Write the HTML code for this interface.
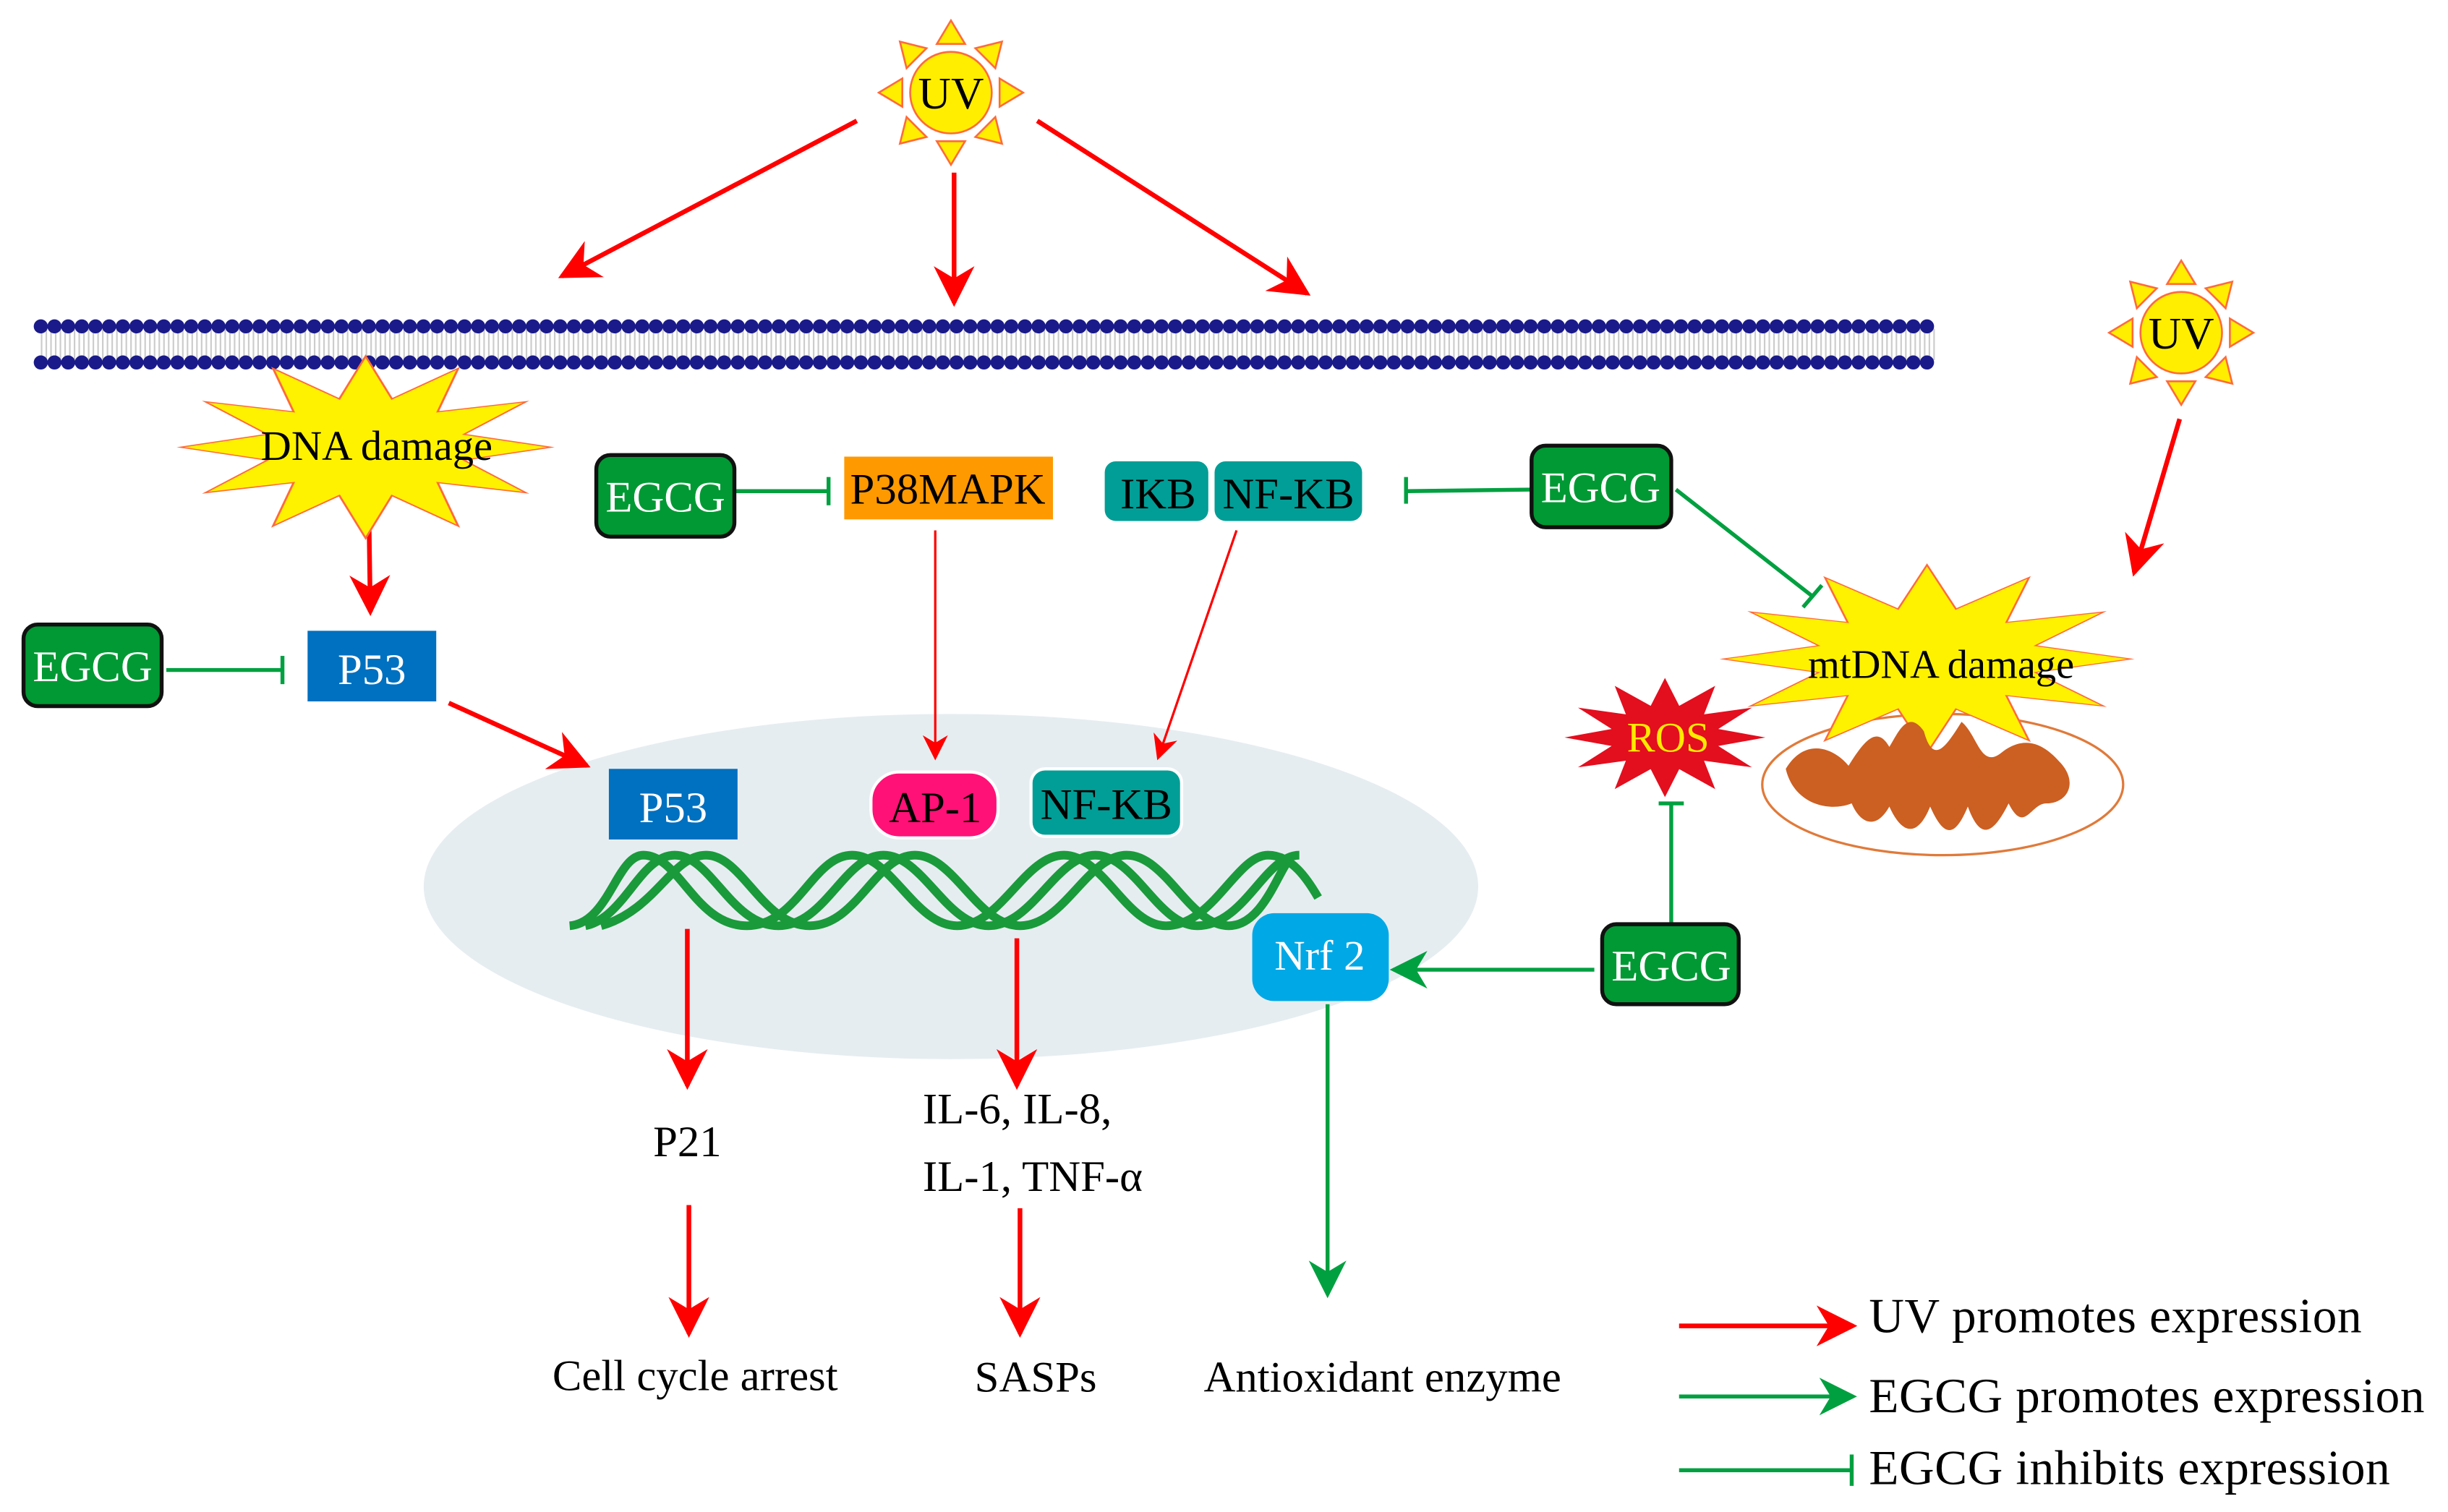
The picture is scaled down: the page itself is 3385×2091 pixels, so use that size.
<!DOCTYPE html>
<html><head><meta charset="utf-8"><style>html,body{margin:0;padding:0;background:#fff}svg{display:block}text{font-family:"Liberation Serif",serif}</style></head>
<body>
<svg width="3385" height="2091" viewBox="0 0 1560 963.6" xmlns="http://www.w3.org/2000/svg">
<defs>
<marker id="rb" viewBox="0 0 10 10" refX="9" refY="5" markerWidth="26" markerHeight="26" markerUnits="userSpaceOnUse" orient="auto"><path d="M0,0 L10,5 L0,10 L3,5z" fill="#f00"/></marker>
<marker id="rs" viewBox="0 0 10 10" refX="9" refY="5" markerWidth="16" markerHeight="16" markerUnits="userSpaceOnUse" orient="auto"><path d="M0,0 L10,5 L0,10 L3,5z" fill="#f00"/></marker>
<marker id="ga" viewBox="0 0 10 10" refX="9" refY="5" markerWidth="24" markerHeight="24" markerUnits="userSpaceOnUse" orient="auto"><path d="M0,0 L10,5 L0,10 L3,5z" fill="#00a040"/></marker>
<path id="star" d="M1,0 L0.531,0.142 L0.866,0.5 L0.389,0.389 L0.5,0.866 L0.142,0.531 L0,1 L-0.142,0.531 L-0.5,0.866 L-0.389,0.389 L-0.866,0.5 L-0.531,0.142 L-1,0 L-0.531,-0.142 L-0.866,-0.5 L-0.389,-0.389 L-0.5,-0.866 L-0.142,-0.531 L0,-1 L0.142,-0.531 L0.5,-0.866 L0.389,-0.389 L0.866,-0.5 L0.531,-0.142Z"/>
<g id="sun">
<g fill="#ffee00" stroke="#ff6a3a" stroke-width="1.2">
<polygon points="-9,-31 9,-31 0,-46"/>
<polygon points="-9,-31 9,-31 0,-46" transform="rotate(45)"/>
<polygon points="-9,-31 9,-31 0,-46" transform="rotate(90)"/>
<polygon points="-9,-31 9,-31 0,-46" transform="rotate(135)"/>
<polygon points="-9,-31 9,-31 0,-46" transform="rotate(180)"/>
<polygon points="-9,-31 9,-31 0,-46" transform="rotate(225)"/>
<polygon points="-9,-31 9,-31 0,-46" transform="rotate(270)"/>
<polygon points="-9,-31 9,-31 0,-46" transform="rotate(315)"/>
<circle r="26"/>
</g>
<text y="10" text-anchor="middle" font-size="29">UV</text>
</g>
</defs>

<ellipse cx="606" cy="565" rx="336" ry="110" fill="#e6edf1"/>

<g>
<line x1="26" y1="219.5" x2="1234" y2="219.5" stroke="#ccc" stroke-width="20" stroke-dasharray="1,2"/>
<line x1="26" y1="208" x2="1234" y2="208" stroke="#1a1a8a" stroke-width="9" stroke-linecap="round" stroke-dasharray="0.01,8.7"/>
<line x1="26" y1="231" x2="1234" y2="231" stroke="#1a1a8a" stroke-width="9" stroke-linecap="round" stroke-dasharray="0.01,8.7"/>
</g>

<use href="#sun" x="606" y="59"/>
<use href="#sun" x="1390" y="212"/>

<g stroke="#f00" stroke-width="3" fill="none">
<line x1="546" y1="77" x2="358" y2="176" marker-end="url(#rb)"/>
<line x1="608" y1="110" x2="608" y2="193" marker-end="url(#rb)"/>
<line x1="661" y1="77" x2="833" y2="187" marker-end="url(#rb)"/>
<line x1="235" y1="322" x2="236" y2="390" marker-end="url(#rb)"/>
<line x1="286" y1="448" x2="374" y2="488" marker-end="url(#rb)"/>
<line x1="1389" y1="267" x2="1360" y2="365" marker-end="url(#rb)"/>
<line x1="438" y1="592" x2="438" y2="692" marker-end="url(#rb)"/>
<line x1="648" y1="598" x2="648" y2="692" marker-end="url(#rb)"/>
<line x1="439" y1="768" x2="439" y2="850" marker-end="url(#rb)"/>
<line x1="650" y1="770" x2="650" y2="850" marker-end="url(#rb)"/>
<line x1="1070" y1="845" x2="1181" y2="845" marker-end="url(#rb)"/>
</g>
<g stroke="#f00" stroke-width="1.5" fill="none">
<line x1="596" y1="338" x2="596" y2="483" marker-end="url(#rs)"/>
<line x1="788" y1="338" x2="738" y2="483" marker-end="url(#rs)"/>
</g>

<g stroke="#00a040" stroke-width="2.5" fill="none">
<line x1="846" y1="640" x2="846" y2="825" marker-end="url(#ga)"/>
<line x1="1016" y1="618" x2="888" y2="618" marker-end="url(#ga)"/>
<line x1="1070" y1="890" x2="1181" y2="890" marker-end="url(#ga)"/>
<line x1="468" y1="313" x2="528" y2="313"/><line x1="528" y1="304" x2="528" y2="322"/>
<line x1="106" y1="427" x2="180" y2="427"/><line x1="180" y1="418" x2="180" y2="436"/>
<line x1="976" y1="312" x2="896" y2="313"/><line x1="896" y1="304" x2="896" y2="321"/>
<line x1="1068" y1="312" x2="1155" y2="380"/><line x1="1149" y1="387" x2="1161" y2="373"/>
<line x1="1065" y1="588" x2="1065" y2="512"/><line x1="1057" y1="512" x2="1073" y2="512"/>
<line x1="1070" y1="937" x2="1180" y2="937"/><line x1="1180" y1="927" x2="1180" y2="947"/>
</g>

<g fill="none" stroke="#1a9a3a" stroke-width="5.5">
<path d="M363,590 C388,588 393,545 410,545 C433,545 443,590 476,590 C508,590 518,545 543,545 C568,545 583,590 610,590 C638,590 653,545 678,545 C703,545 718,590 743,590 C773,590 788,545 808,545 C823,545 833,560 840,572"/>
<path d="M373,590 C398,585 408,545 430,545 C453,545 466,590 496,590 C526,590 538,545 563,545 C588,545 603,590 630,590 C658,590 673,545 698,545 C723,545 738,590 763,590 C793,590 806,545 828,545"/>
<path d="M383,590 C418,580 428,545 450,545 C473,545 486,590 516,590 C546,590 558,545 583,545 C608,545 623,590 650,590 C678,590 693,545 718,545 C743,545 758,590 783,590 C803,590 813,560 820,550"/>
</g>

<use href="#star" transform="translate(233,285) scale(118,58)" fill="#fff200" stroke="#ff6a3a" stroke-width="0.012"/>
<text x="240" y="293" text-anchor="middle" font-size="27">DNA damage</text>

<ellipse cx="1238" cy="500" rx="115" ry="45" fill="#fff" stroke="#e07a3a" stroke-width="1.5"/>
<use href="#star" transform="translate(1228,420) scale(130,60)" fill="#fff200" stroke="#ff6a3a" stroke-width="0.01"/>
<path d="M1138,490 C1150,470 1168,476 1178,488 C1188,472 1196,462 1204,476 C1210,466 1216,452 1226,466 C1232,488 1240,476 1250,460 C1260,468 1262,490 1275,480 C1290,468 1302,474 1312,485 C1325,498 1318,512 1304,512 C1294,512 1290,532 1280,512 C1270,532 1262,536 1254,514 C1245,536 1238,532 1230,514 C1222,534 1212,532 1204,514 C1195,530 1185,524 1180,512 C1165,518 1143,512 1138,490Z" fill="#cc5f22"/>
<text x="1237" y="432" text-anchor="middle" font-size="26">mtDNA damage</text>

<use href="#star" transform="translate(1061,470) scale(64,38)" fill="#e30e1e"/>
<text x="1063" y="479" text-anchor="middle" font-size="27" fill="#ffea00">ROS</text>

<g stroke="#111" stroke-width="2.5" fill="#009933">
<rect x="380" y="290" width="88" height="52" rx="9"/>
<rect x="976" y="284" width="89" height="52" rx="9"/>
<rect x="15" y="398" width="88" height="52" rx="9"/>
<rect x="1021" y="589" width="87" height="51" rx="9"/>
</g>
<g fill="#fff" font-size="28" text-anchor="middle">
<text x="424" y="326">EGCG</text>
<text x="1020" y="320">EGCG</text>
<text x="59" y="434">EGCG</text>
<text x="1065" y="625">EGCG</text>
</g>
<rect x="538" y="291" width="133" height="40" fill="#ff9900"/>
<text x="604" y="321" text-anchor="middle" font-size="28">P38MAPK</text>
<rect x="704" y="294" width="66" height="38" rx="7" fill="#009e96"/>
<rect x="774" y="294" width="94" height="38" rx="7" fill="#009e96"/>
<text x="738" y="324" text-anchor="middle" font-size="28">IKB</text>
<text x="821" y="324" text-anchor="middle" font-size="28">NF-KB</text>
<rect x="196" y="402" width="82" height="45" fill="#0070c0"/>
<text x="237" y="436" text-anchor="middle" font-size="28" fill="#fff">P53</text>
<rect x="388" y="490" width="82" height="45" fill="#0070c0"/>
<text x="429" y="524" text-anchor="middle" font-size="28" fill="#fff">P53</text>
<rect x="555" y="492" width="81" height="42" rx="18" fill="#ff1177" stroke="#fff" stroke-width="2"/>
<text x="596" y="524" text-anchor="middle" font-size="28">AP-1</text>
<rect x="657" y="490" width="96" height="43" rx="9" fill="#009e96" stroke="#fff" stroke-width="2"/>
<text x="705" y="522" text-anchor="middle" font-size="28">NF-KB</text>
<rect x="798" y="582" width="87" height="56" rx="14" fill="#00a8e6"/>
<text x="841" y="618" text-anchor="middle" font-size="27" fill="#fff">Nrf 2</text>

<g font-size="28">
<text x="438" y="737" text-anchor="middle">P21</text>
<text x="588" y="716">IL-6, IL-8,</text>
<text x="588" y="759">IL-1, TNF-α</text>
<text x="443" y="886" text-anchor="middle">Cell cycle arrest</text>
<text x="660" y="887" text-anchor="middle">SASPs</text>
<text x="881" y="887" text-anchor="middle">Antioxidant enzyme</text>
<text x="1191" y="849" font-size="31" textLength="314">UV promotes expression</text>
<text x="1191" y="900" font-size="31" textLength="354">EGCG promotes expression</text>
<text x="1191" y="946" font-size="31" textLength="332">EGCG inhibits expression</text>
</g>
</svg>
</body></html>
